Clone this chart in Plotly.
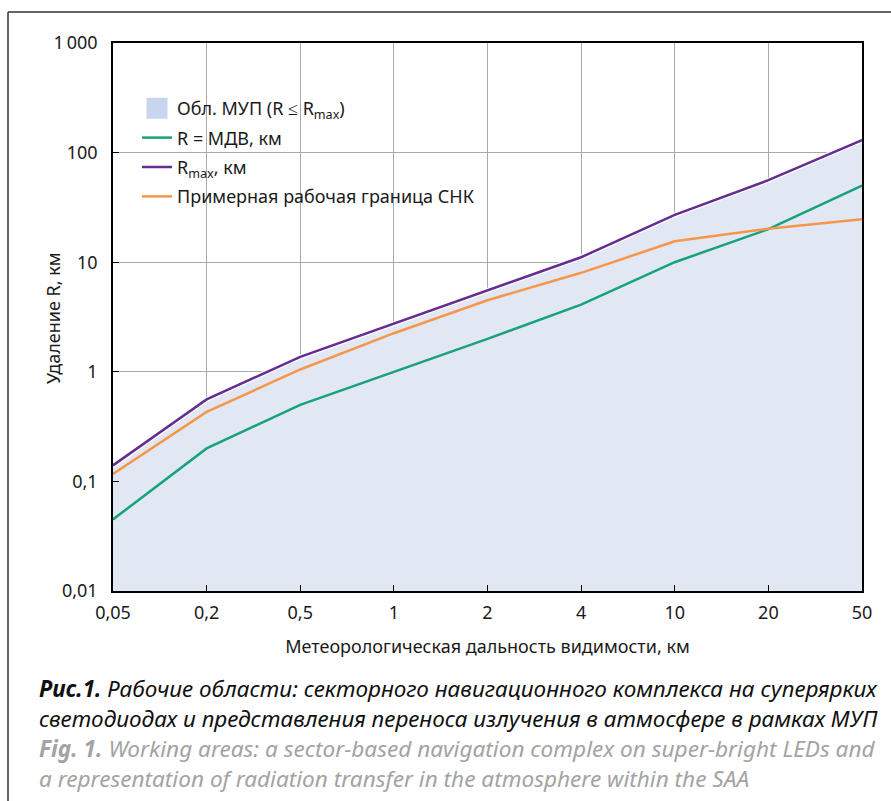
import plotly.graph_objects as go

# ---- data ----
visibility_labels = ["0,05", "0,2", "0,5", "1", "2", "4", "10", "20", "50"]
r_mdv = [0.045, 0.2, 0.5, 1, 2, 4.1, 10, 20, 50]
r_max = [0.14, 0.56, 1.37, 2.75, 5.6, 11.1, 27, 56, 130]
snk_border = [0.117, 0.43, 1.05, 2.25, 4.5, 8.0, 15.5, 20.2, 24.6]
y_tickvals = [0.01, 0.1, 1, 10, 100, 1000]
y_ticktext = ["0,01", "0,1", "1", "10", "100", "1\u2009000"]

W, H = 891, 801
L, R, T, B = 113, 29, 43, 210
PW, PH = W - L - R, H - T - B

def px(x):
    return (x - L) / PW

def py(y):
    return (H - B - y) / PH

FONT = "Noto Sans"
fig = go.Figure()

# filled area under R_max
fig.add_trace(go.Scatter(
    x=visibility_labels, y=r_max, mode="lines", fill="tozeroy",
    fillcolor="#e1e8f4", line=dict(color="white", width=5),
    showlegend=False, hoverinfo="skip", legendgroup="z"))
# legend swatch for the area
fig.add_trace(go.Scatter(
    x=[visibility_labels[0]], y=[None], mode="markers",
    marker=dict(symbol="square", size=16, color="#c7d5ee",
                line=dict(color="#c7d5ee", width=5)),
    name="Обл. МУП (R ≤ R<sub>max</sub>)", legendgroup="a", hoverinfo="skip"))
fig.add_trace(go.Scatter(
    x=visibility_labels, y=r_mdv, mode="lines",
    line=dict(color="#17a27a", width=2.5), name="R = МДВ, км", legendgroup="b"))
fig.add_trace(go.Scatter(
    x=visibility_labels, y=r_max, mode="lines",
    line=dict(color="#652d90", width=2.5), name="R<sub>max</sub>, км", legendgroup="c"))
fig.add_trace(go.Scatter(
    x=visibility_labels, y=snk_border, mode="lines",
    line=dict(color="#f7964a", width=2.5), name="Примерная рабочая граница СНК",
    legendgroup="d"))

fig.update_layout(
    width=W, height=H,
    margin=dict(l=L, r=R, t=T, b=B, pad=0, autoexpand=False),
    paper_bgcolor="white", plot_bgcolor="white",
    font=dict(family=FONT, size=18, color="#1a1a1a"),
    legend=dict(x=px(137), y=py(90), xanchor="left", yanchor="top",
                bgcolor="rgba(0,0,0,0)", font=dict(size=18, color="#1a1a1a"),
                tracegroupgap=3, traceorder="grouped"),
    xaxis=dict(
        type="category", range=[0, len(visibility_labels) - 1],
        showgrid=True, gridcolor="#a9a9a9", gridwidth=1,
        showline=True, linecolor="black", linewidth=1.5, mirror=True,
        ticks="inside", ticklen=6, tickcolor="black",
        ticklabelstandoff=5, automargin=False,
        title=dict(text="Метеорологическая дальность видимости, км",
                   font=dict(size=18), standoff=17),
        zeroline=False),
    yaxis=dict(
        type="log", range=[-2, 3],
        tickvals=y_tickvals, ticktext=y_ticktext,
        showgrid=True, gridcolor="#a9a9a9", gridwidth=1,
        showline=True, linecolor="black", linewidth=1.5, mirror=True,
        ticks="inside", ticklen=6, tickcolor="black",
        ticklabelstandoff=10, automargin=False,
        zeroline=False),
)

# y-axis title
fig.add_annotation(text="Удаление R, км", xref="paper", yref="paper",
                   x=px(53), y=py(318), textangle=-90, showarrow=False,
                   xanchor="center", yanchor="middle", font=dict(size=18))

# outer frame
frame = dict(type="line", xref="paper", yref="paper",
             line=dict(color="#333333", width=1.5), layer="above")
fig.add_shape(x0=px(8), x1=px(W + 5), y0=py(12), y1=py(12), **frame)
fig.add_shape(x0=px(8), x1=px(8), y0=py(12), y1=py(H + 5), **frame)

# caption
lines = [
    ("<b><i>Рис.1.</i></b><i> Рабочие области: секторного навигационного комплекса на суперярких</i>", "#111111", 688, 22.5),
    ("<i>светодиодах и представления переноса излучения в атмосфере в рамках МУП</i>", "#111111", 718, 22.5),
    ("<b><i>Fig. 1.</i></b><i> Working areas: a sector-based navigation complex on super-bright LEDs and</i>", "#a3a3a3", 748, 22.6),
    ("<i>a representation of radiation transfer in the atmosphere within the SAA</i>", "#a3a3a3", 778, 22.6),
]
for text, color, yc, fs in lines:
    fig.add_annotation(text=text, xref="paper", yref="paper", x=px(37), y=py(yc),
                       xanchor="left", yanchor="middle", showarrow=False,
                       font=dict(family=FONT, size=fs, color=color))

fig.write_html("out.html", config={"displayModeBar": False},
               post_script="document.body.style.margin='0';document.body.style.overflow='hidden';")
